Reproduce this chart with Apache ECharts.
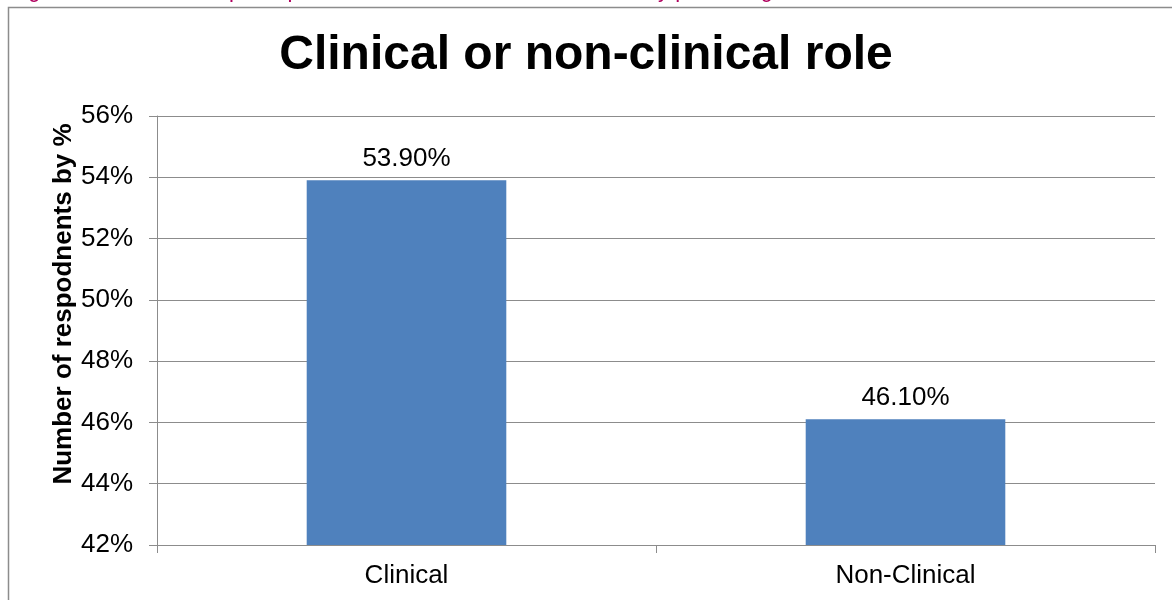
<!DOCTYPE html>
<html>
<head>
<meta charset="utf-8">
<script src="https://cdn.jsdelivr.net/npm/echarts@6/dist/echarts.min.js"></script>
<style>
  html, body { margin: 0; padding: 0; background: #fff; }
  #chart { width: 1172px; height: 600px; }
</style>
</head>
<body>
<div id="chart"></div>
<script>
// Share of respondents by role type
const categories = ['Clinical', 'Non-Clinical'];
const percentValues = [53.9, 46.1];
const yTicks = { min: 42, max: 56, step: 2 };

const chartTitle = 'Clinical or non-clinical role';
const yAxisTitle = 'Number of respodnents by %';
const captionText = 'Figure 30: Location of participants in a clinical or non-clinical role by percentage';

const chart = echarts.init(document.getElementById('chart'), null, { renderer: 'canvas' });

const gridColor = '#8c8c8c';
const font = 'Arial, "Liberation Sans", sans-serif';

chart.setOption({
  animation: false,
  backgroundColor: '#ffffff',
  title: {
    text: chartTitle,
    left: 'center',
    top: 27,
    textStyle: { fontFamily: font, fontSize: 48, fontWeight: 'bold', color: '#000' }
  },
  grid: { left: 157, right: 17, top: 116, bottom: 55, containLabel: false },
  xAxis: {
    type: 'category',
    data: categories,
    axisLine: { lineStyle: { color: gridColor, width: 1 } },
    axisTick: { show: true, length: 8, alignWithLabel: false, lineStyle: { color: gridColor } },
    axisLabel: { fontFamily: font, fontSize: 26, color: '#000', margin: 18 },
    splitLine: { show: false }
  },
  yAxis: {
    type: 'value',
    min: yTicks.min,
    max: yTicks.max,
    interval: yTicks.step,
    axisLine: { show: true, lineStyle: { color: gridColor, width: 1 } },
    axisTick: { show: true, length: 8, lineStyle: { color: gridColor } },
    axisLabel: { fontFamily: font, fontSize: 26, color: '#000', margin: 24, formatter: '{value}%' },
    splitLine: { show: true, lineStyle: { color: gridColor, width: 1 } }
  },
  series: [{
    type: 'bar',
    data: percentValues,
    barWidth: '40%',
    itemStyle: { color: '#4f81bd' },
    label: {
      show: true,
      position: 'top',
      distance: 9,
      fontFamily: font,
      fontSize: 26,
      color: '#000',
      formatter: p => p.value.toFixed(2) + '%'
    }
  }],
  graphic: [
    {
      type: 'text',
      left: 10,
      top: -20,
      style: { text: captionText, font: '22px ' + font, fill: '#b0005e' },
      silent: true
    },
    {
      type: 'rect',
      shape: { x: 8.5, y: 7.5, width: 1200, height: 700 },
      style: { fill: 'none', stroke: '#8c8c8c', lineWidth: 1.5 },
      silent: true,
      z: -1
    },
    {
      type: 'text',
      x: 64,
      y: 304,
      rotation: Math.PI / 2,
      style: {
        text: yAxisTitle,
        font: 'bold 26px ' + font,
        fill: '#000',
        textAlign: 'center',
        textVerticalAlign: 'middle'
      },
      silent: true
    }
  ]
});
</script>
</body>
</html>
